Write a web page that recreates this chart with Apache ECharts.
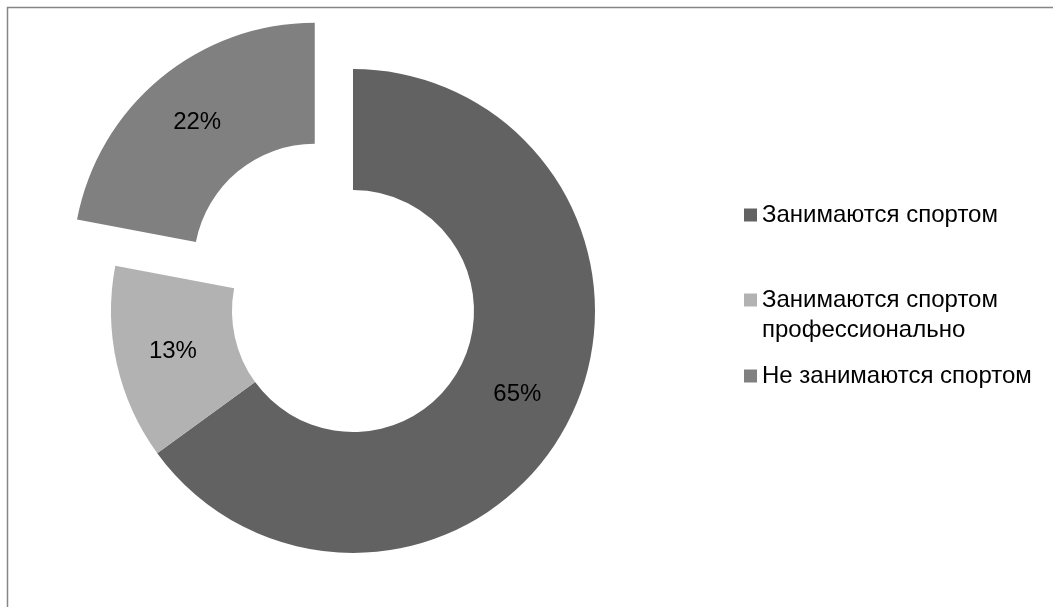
<!DOCTYPE html>
<html>
<head>
<meta charset="utf-8">
<script src="https://cdn.jsdelivr.net/npm/echarts@6/dist/echarts.min.js"></script>
<style>
html,body{margin:0;padding:0;background:#fff;}
#main{width:1053px;height:607px;}
</style>
</head>
<body>
<div id="main"></div>
<script>
var categories = ['Занимаются спортом', 'Занимаются спортом профессионально', 'Не занимаются спортом'];
var values = [65, 13, 22];
var colors = ['#626262', '#b2b2b2', '#808080'];
var legendLabels = ['Занимаются спортом', '\nЗанимаются спортом\nпрофессионально', 'Не занимаются спортом'];
var explodedIndex = 2;

var FONT = '"Liberation Sans", Arial, sans-serif';
var chart = echarts.init(document.getElementById('main'), null, {renderer: 'canvas'});

var data = categories.map(function (c, i) {
  return {
    name: c,
    value: values[i],
    selected: i === explodedIndex,
    itemStyle: {color: colors[i]}
  };
});

var legendTops = [200, 255, 361];
var legends = categories.map(function (c, i) {
  return {
    data: [c],
    orient: 'vertical',
    left: 744,
    top: legendTops[i],
    padding: 0,
    itemWidth: 13,
    itemHeight: 13,
    itemGap: 0,
    icon: 'rect',
    selectedMode: false,
    formatter: function () { return legendLabels[i]; },
    textStyle: {
      fontFamily: FONT,
      fontSize: 24,
      color: '#000',
      lineHeight: 30
    }
  };
});

chart.setOption({
  backgroundColor: '#fff',
  animation: false,
  legend: legends,
  graphic: [{
    type: 'rect',
    shape: {x: 7.5, y: 7.5, width: 1200, height: 800},
    style: {fill: 'none', stroke: '#868686', lineWidth: 1.5},
    silent: true
  }],
  series: [{
    type: 'pie',
    center: [353, 311],
    radius: [121, 242],
    startAngle: 90,
    clockwise: true,
    selectedMode: 'single',
    selectedOffset: 60,
    avoidLabelOverlap: false,
    emphasis: {disabled: true, scale: false},
    label: {
      show: true,
      position: 'inside',
      formatter: function (p) { return p.value + '%'; },
      fontFamily: FONT,
      fontSize: 24,
      color: '#000'
    },
    labelLine: {show: false},
    itemStyle: {borderWidth: 0},
    data: data
  }]
});
</script>
</body>
</html>
